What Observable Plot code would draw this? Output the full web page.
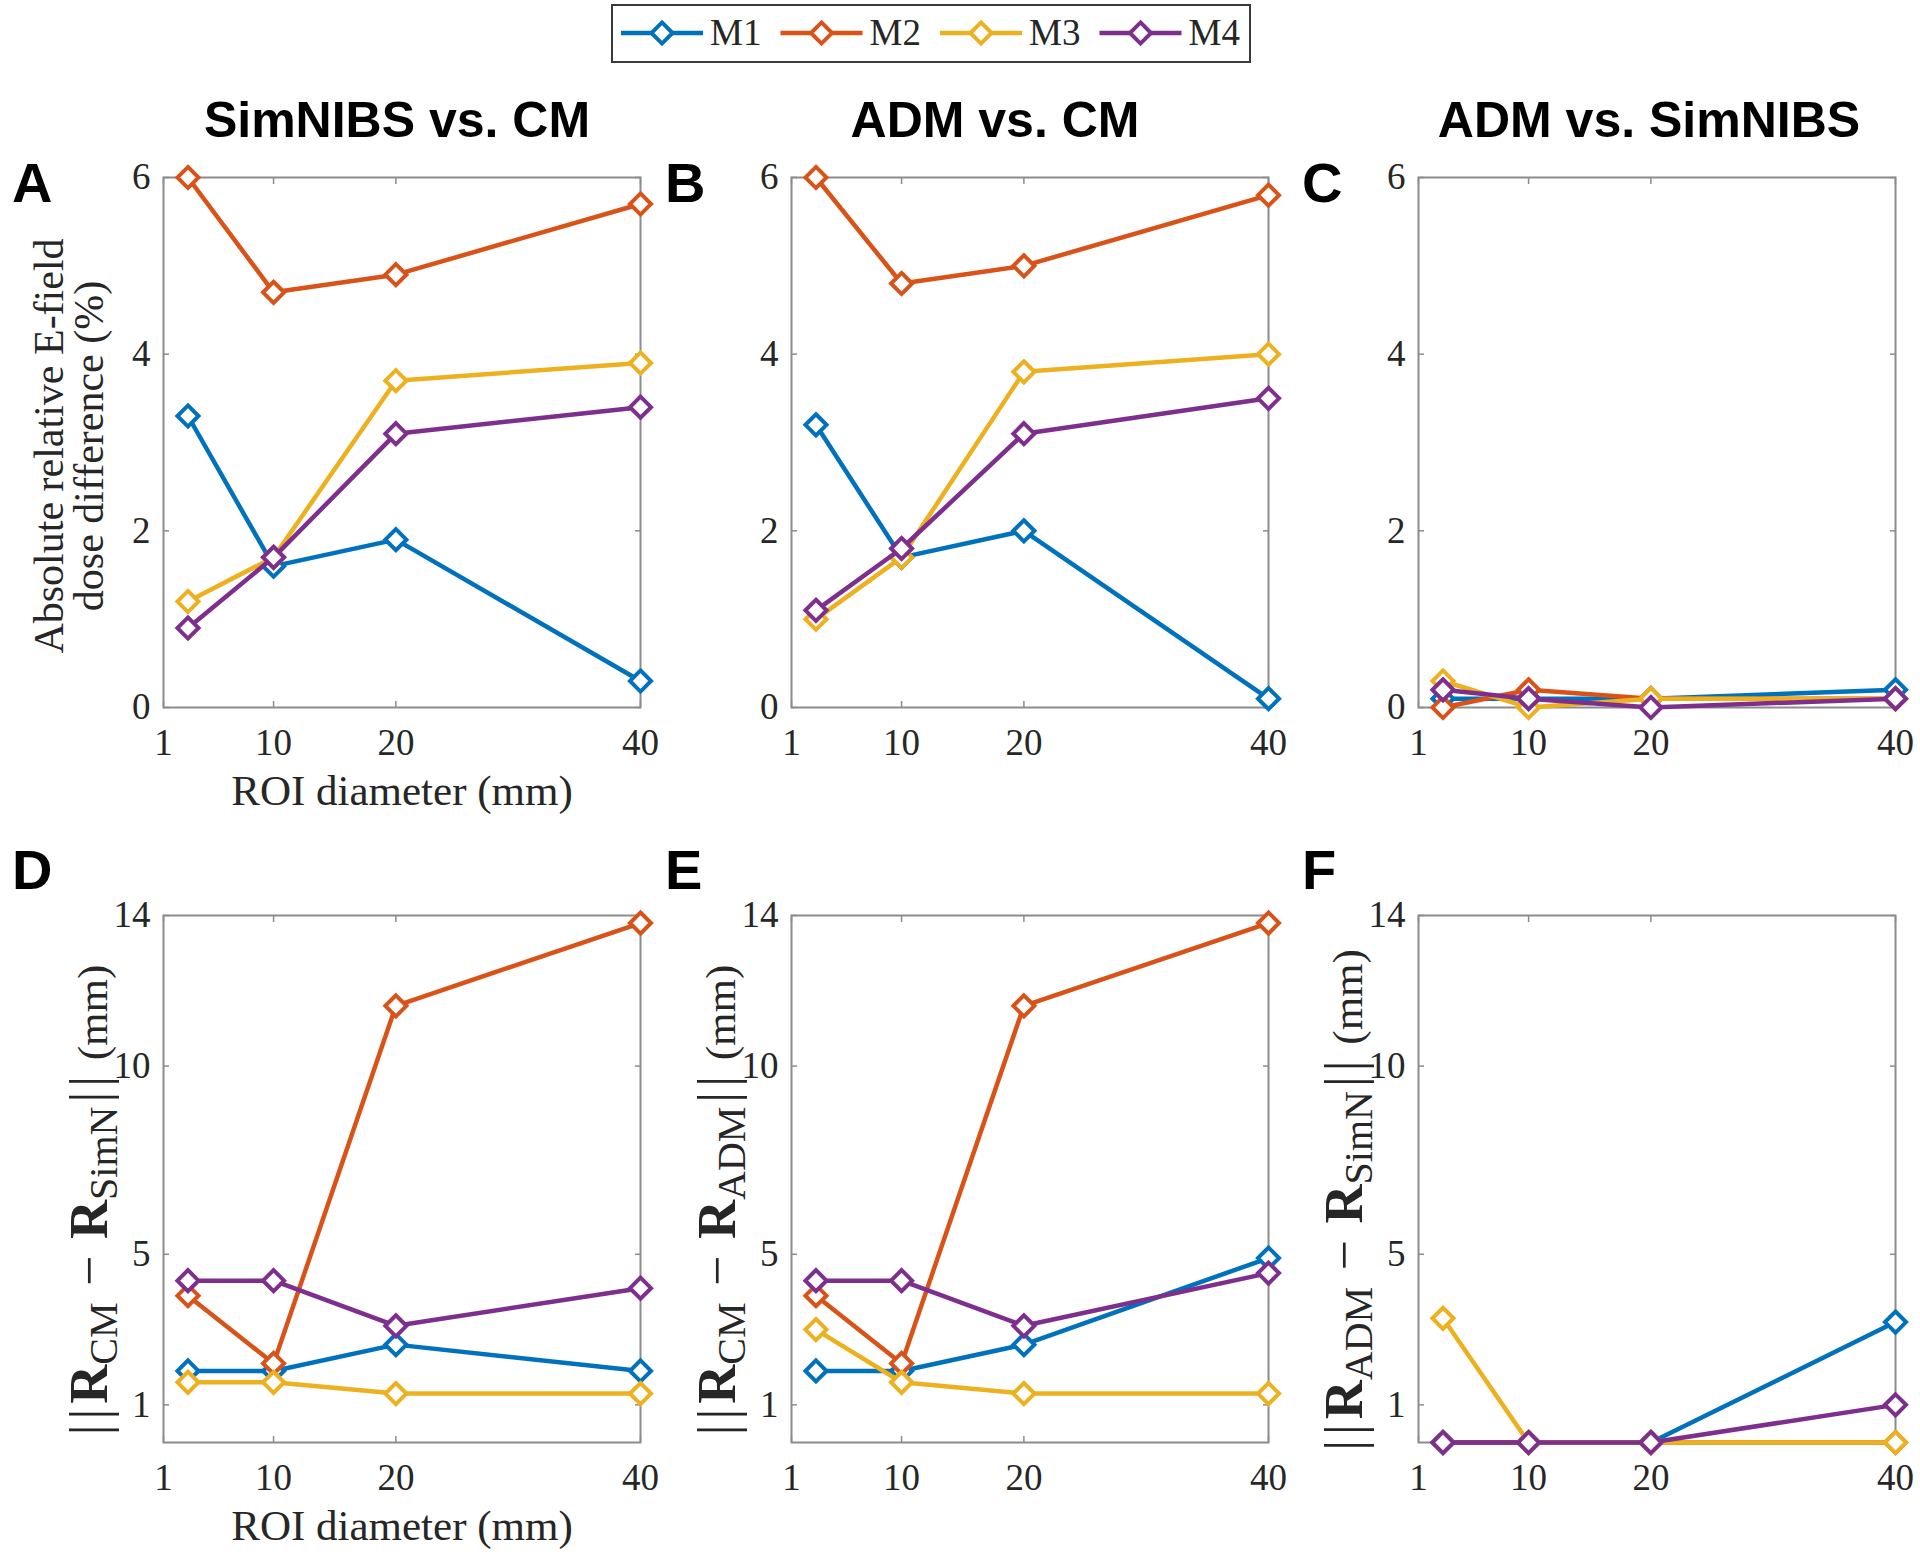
<!DOCTYPE html>
<html>
<head>
<meta charset="utf-8">
<script src="https://cdn.jsdelivr.net/npm/d3@7"></script>
<script src="https://cdn.jsdelivr.net/npm/@observablehq/plot@0.6"></script>
<style>
  html, body { margin: 0; padding: 0; background: #fff; overflow: hidden; }
  #fig { position: relative; width: 1920px; height: 1552px; background: #fff; }
  #fig > svg { position: absolute; }
</style>
</head>
<body>
<div id="fig"></div>
<script>
// ---------------- data ----------------
const methods = ["M1", "M2", "M3", "M4"];
const methodColors = ["#0072BD", "#D95319", "#EDB120", "#7E2F8E"];
const roiDiameter = [3, 10, 20, 40];
const xTickValues = [1, 10, 20, 40];
const doseTicks = [0, 2, 4, 6];
const distTicks = [1, 5, 10, 14];

// Absolute relative E-field dose difference (%) — rows M1..M4, columns ROI 3,10,20,40 mm
const doseSimNIBSvsCM = [
  [3.3, 1.6, 1.9, 0.3],
  [6.0, 4.7, 4.9, 5.7],
  [1.2, 1.7, 3.7, 3.9],
  [0.9, 1.7, 3.1, 3.4]
];
const doseADMvsCM = [
  [3.2, 1.7, 2.0, 0.1],
  [6.0, 4.8, 5.0, 5.8],
  [1.0, 1.7, 3.8, 4.0],
  [1.1, 1.8, 3.1, 3.5]
];
const doseADMvsSimNIBS = [
  [0.1, 0.1, 0.1, 0.2],
  [0.0, 0.2, 0.1, 0.1],
  [0.3, 0.0, 0.1, 0.1],
  [0.2, 0.1, 0.0, 0.1]
];
// ||R_a - R_b|| (mm)
const distCMvsSimNIBS = [
  [1.9, 1.9, 2.6, 1.9],
  [3.9, 2.1, 11.6, 13.8],
  [1.6, 1.6, 1.3, 1.3],
  [4.3, 4.3, 3.1, 4.1]
];
const distCMvsADM = [
  [1.9, 1.9, 2.6, 4.9],
  [3.9, 2.1, 11.6, 13.8],
  [3.0, 1.6, 1.3, 1.3],
  [4.3, 4.3, 3.1, 4.5]
];
const distADMvsSimNIBS = [
  [0, 0, 0, 3.2],
  [0, 0, 0, 0],
  [3.3, 0, 0, 0],
  [0, 0, 0, 1.0]
];

const titles = ["SimNIBS vs. CM", "ADM vs. CM", "ADM vs. SimNIBS"];
const panelLetters = ["A", "B", "C", "D", "E", "F"];
const xLabelText = "ROI diameter (mm)";
const doseLabelLines = ["Absolute relative E-field", "dose difference (%)"];

// ---------------- layout / style ----------------
const serif = "'Liberation Serif', 'Times New Roman', serif";
const sans = "'Liberation Sans', Arial, sans-serif";
const txt = "#262626";
const axisGray = "#8c8c8c";
const frameW = 477;
const ML = 160, MR = 25, MT = 30, MB = 120;
const fmt = d3.format("d");

const panels = [
  {values: doseSimNIBSvsCM, yMax: 6, yTicks: doseTicks, left: 163, top: 177, h: 530, xLabel: true},
  {values: doseADMvsCM, yMax: 6, yTicks: doseTicks, left: 791, top: 177, h: 530, xLabel: false},
  {values: doseADMvsSimNIBS, yMax: 6, yTicks: doseTicks, left: 1418, top: 177, h: 530, xLabel: false},
  {values: distCMvsSimNIBS, yMax: 14, yTicks: distTicks, left: 163, top: 915, h: 527, xLabel: true},
  {values: distCMvsADM, yMax: 14, yTicks: distTicks, left: 791, top: 915, h: 527, xLabel: false},
  {values: distADMvsSimNIBS, yMax: 14, yTicks: distTicks, left: 1418, top: 915, h: 527, xLabel: false}
];

const fig = document.getElementById("fig");

function makePanel(p) {
  const rows = methods.flatMap((m, i) =>
    roiDiameter.map((d, j) => ({method: m, roi: d, value: p.values[i][j]})));
  const series = methods.flatMap(m => {
    const sub = rows.filter(r => r.method === m);
    return [
      Plot.line(sub, {x: "roi", y: "value", stroke: "method", strokeWidth: 4.5, strokeLinejoin: "round"}),
      Plot.dot(sub, {x: "roi", y: "value", stroke: "method", symbol: "diamond2", r: 9.5, strokeWidth: 4, fill: "white"})
    ];
  });
  const marks = [
    Plot.frame({stroke: axisGray, strokeWidth: 2}),
    Plot.axisX(xTickValues, {anchor: "bottom", tickSize: 0, tickPadding: 21, fontSize: 37, fontFamily: serif, fill: txt, label: null, tickFormat: fmt}),
    Plot.axisX(xTickValues, {anchor: "bottom", tickSize: -6, fill: "none", stroke: axisGray, strokeWidth: 1.5}),
    Plot.axisX(xTickValues, {anchor: "top", tickSize: -6, fill: "none", stroke: axisGray, strokeWidth: 1.5}),
    Plot.axisY(p.yTicks, {anchor: "left", tickSize: 0, tickPadding: 13, fontSize: 37, fontFamily: serif, fill: txt, label: null, tickFormat: fmt}),
    Plot.axisY(p.yTicks, {anchor: "left", tickSize: -6, fill: "none", stroke: axisGray, strokeWidth: 1.5}),
    Plot.axisY(p.yTicks, {anchor: "right", tickSize: -6, fill: "none", stroke: axisGray, strokeWidth: 1.5}),
    ...series
  ];
  if (p.xLabel) {
    marks.push(Plot.text([xLabelText], {text: d => d, frameAnchor: "bottom", dy: 84, lineAnchor: "middle", fontSize: 43, fontFamily: serif, fill: txt}));
  }
  const svg = Plot.plot({
    width: ML + frameW + MR,
    height: MT + p.h + MB,
    marginLeft: ML, marginRight: MR, marginTop: MT, marginBottom: MB,
    style: {background: "transparent", overflow: "visible", fontFamily: serif, color: txt},
    x: {domain: [1, 40]},
    y: {domain: [0, p.yMax]},
    color: {domain: methods, range: methodColors},
    marks
  });
  svg.style.left = (p.left - ML) + "px";
  svg.style.top = (p.top - MT) + "px";
  fig.appendChild(svg);
}
panels.forEach(makePanel);

// ---------------- overlay: titles, letters, axis labels, legend ----------------
const ov = d3.create("svg")
  .attr("width", 1920).attr("height", 1552)
  .style("left", "0px").style("top", "0px")
  .style("overflow", "visible").style("pointer-events", "none");

// titles
const titleX = [397, 995, 1649];
titles.forEach((t, i) => {
  ov.append("text").attr("x", titleX[i]).attr("y", 137)
    .attr("text-anchor", "middle").attr("font-family", sans).attr("font-weight", "bold")
    .attr("font-size", 50).attr("fill", "#000").text(t);
});

// panel letters
const letterPos = [[12, 202], [665, 202], [1302, 202], [12, 889], [665, 889], [1302, 889]];
panelLetters.forEach((l, i) => {
  ov.append("text").attr("x", letterPos[i][0]).attr("y", letterPos[i][1])
    .attr("font-family", sans).attr("font-weight", "bold").attr("font-size", 56)
    .attr("fill", "#000").text(l);
});

// dose label (two lines, rotated)
[[63, doseLabelLines[0]], [103, doseLabelLines[1]]].forEach(([x, t]) => {
  ov.append("text").attr("transform", `translate(${x},446) rotate(-90)`)
    .attr("text-anchor", "middle").attr("font-family", serif).attr("font-size", 42)
    .attr("fill", txt).text(t);
});

// distance labels with bold R and subscripts
function distLabel(x, y, subA, subB) {
  const t = ov.append("text").attr("transform", `translate(${x},${y}) rotate(-90)`)
    .attr("text-anchor", "middle").attr("font-family", serif).attr("fill", txt)
    .style("white-space", "pre");
  const parts = [
    {t: "||", size: 54, ls: 5},
    {t: "R", size: 54, bold: true},
    {t: subA, size: 40, dy: 10},
    {t: " \u2212 ", size: 54, dy: -10, dx: 3},
    {t: "R", size: 54, bold: true, dx: 3},
    {t: subB, size: 40, dy: 10},
    {t: "||", size: 54, dy: -10, ls: 5, dx: 4},
    {t: " (mm)", size: 43}
  ];
  parts.forEach(p => {
    const s = t.append("tspan").attr("font-size", p.size).text(p.t);
    if (p.bold) s.attr("font-weight", "bold");
    if (p.dy) s.attr("dy", p.dy);
    if (p.dx) s.attr("dx", p.dx);
    if (p.ls) s.attr("letter-spacing", p.ls);
  });
}
distLabel(107, 1200, "CM", "SimN");
distLabel(735, 1200, "CM", "ADM");
distLabel(1362, 1200, "ADM", "SimN");

// legend
const lg = ov.append("g");
lg.append("rect").attr("x", 612).attr("y", 5).attr("width", 638).attr("height", 57)
  .attr("fill", "#fff").attr("stroke", "#3a3a3a").attr("stroke-width", 2);
const diamond = d3.symbol().type(d3.symbolDiamond2).size(Math.PI * 9.5 * 9.5);
methods.forEach((m, i) => {
  const x0 = 621 + 159.5 * i, cy = 33;
  lg.append("line").attr("x1", x0).attr("x2", x0 + 82).attr("y1", cy).attr("y2", cy)
    .attr("stroke", methodColors[i]).attr("stroke-width", 4.5);
  lg.append("path").attr("d", diamond()).attr("transform", `translate(${x0 + 41},${cy})`)
    .attr("fill", "white").attr("stroke", methodColors[i]).attr("stroke-width", 4);
  lg.append("text").attr("x", x0 + 89).attr("y", cy + 12)
    .attr("font-family", serif).attr("font-size", 37).attr("fill", txt).text(m);
});

fig.appendChild(ov.node());
</script>
</body>
</html>
